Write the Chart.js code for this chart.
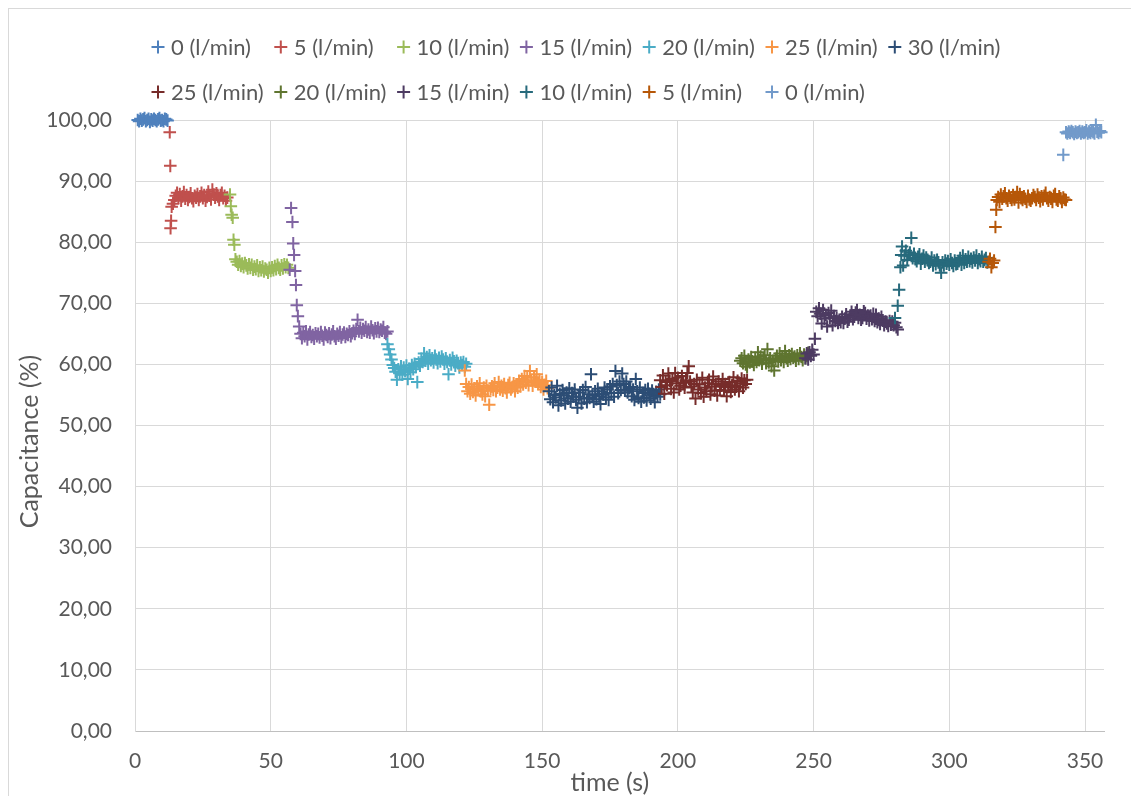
<!DOCTYPE html>
<html>
<head>
<meta charset="utf-8">
<title>Capacitance vs time</title>
<script src="https://cdn.jsdelivr.net/npm/chart.js@4.4.1/dist/chart.umd.min.js"></script>
<style>
  html, body { margin: 0; padding: 0; background: #ffffff; overflow: hidden; }
  #wrap { position: relative; width: 1131px; height: 796px; }
  #frame { position: absolute; left: 8px; top: 8px; width: 1200px; height: 900px; border: 1px solid #D9D9D9; box-sizing: border-box; }
  canvas { position: absolute; left: 0; top: 0; }
</style>
</head>
<body>
<div id="wrap">
  <div id="frame"></div>
  <canvas id="chart" width="1131" height="796"></canvas>
</div>
<script>
// Series names, in plotting order
const seriesLabels = [
  '0 (l/min)', '5 (l/min)', '10 (l/min)', '15 (l/min)', '20 (l/min)', '25 (l/min)', '30 (l/min)',
  '25 (l/min)', '20 (l/min)', '15 (l/min)', '10 (l/min)', '5 (l/min)', '0 (l/min)'
];
const seriesColors = [
  '#4F81BD', '#C0504D', '#9BBB59', '#8064A2', '#4BACC6', '#F79646', '#2C4D75',
  '#772C2A', '#5F7530', '#4D3B62', '#276A7C', '#B65708', '#729ACA'
];

// Time stamps (s) and capacitance readings (%) for each flow step
const t0a = [1,1.5,2,2.5,3,3.5,4,4.5,5,5.5,6,6.5,7,7.5,8,8.5,9,9.5,10,10.5,11,11.5,12];
const v0a = [100.0,99.8,100.2,99.9,100.1,100.3,99.8,100.0,100.2,99.7,100.1,99.9,100.2,100.0,99.8,100.1,100.3,99.9,100.0,99.8,100.2,100.1,99.9];

const t5a = [12.8,13,13.1,13.3,13.5,14,
  14.5,15,15.5,16,16.5,17,17.5,18,18.5,19,19.5,20,20.5,21,21.5,22,22.5,23,23.5,24,
  24.5,25,25.5,26,26.5,27,27.5,28,28.5,29,29.5,30,30.5,31,31.5,32,32.5,33,33.5,34];
const v5a = [98.0,92.5,82.3,83.5,85.8,86.3,
  86.9,87.6,88.1,87.3,87.9,86.8,87.5,88.2,87.1,87.7,86.9,87.4,88.0,87.2,86.7,87.6,87.3,87.9,86.9,87.5,
  88.1,87.2,87.7,86.8,87.4,88.3,87.6,87.0,88.6,87.8,87.3,88.0,87.5,86.9,87.7,88.1,87.2,87.6,86.8,87.3];

const t10a = [35,35.3,35.6,36,36.3,36.6,37,
  37.5,38,38.5,39,39.5,40,40.5,41,41.5,42,42.5,43,43.5,44,44.5,45,45.5,46,46.5,47,
  47.5,48,48.5,49,49.5,50,50.5,51,51.5,52,52.5,53,53.5,54,54.5,55,55.5,56,56.5];
const v10a = [87.8,85.9,84.5,84.0,80.4,79.6,77.2,
  76.8,76.3,76.9,76.1,76.5,75.9,76.6,76.2,75.7,76.4,75.8,76.3,75.5,76.0,75.6,76.2,75.3,75.9,75.4,76.0,
  75.2,75.7,75.5,75.0,75.8,75.3,75.9,75.4,76.1,75.6,76.3,75.8,75.5,76.2,75.7,76.4,75.9,76.3,75.8];

const t15a = [57,57.5,58,58.3,58.6,59,59.3,59.6,60,60.5,
  61,61.5,62,62.5,63,63.5,64,64.5,65,65.5,66,66.5,67,67.5,68,68.5,69,69.5,70,70.5,
  71,71.5,72,72.5,73,73.5,74,74.5,75,75.5,76,76.5,77,77.5,78,78.5,79,79.5,80,
  80.5,81,81.5,82,82.5,83,83.5,84,84.5,85,85.5,86,86.5,87,87.5,88,88.5,89,89.5,90,
  90.5,91,91.5,92,92.5,93];
const v15a = [75.5,85.6,83.3,79.8,77.9,75.3,73.0,69.7,67.9,66.2,
  65.0,64.3,65.2,64.6,65.4,64.1,64.9,65.3,64.5,64.8,64.2,65.1,64.6,65.0,64.4,65.3,64.7,64.1,65.2,64.8,
  64.5,65.1,64.3,64.9,65.4,64.6,64.2,65.0,64.7,65.3,64.4,64.9,65.2,64.5,65.0,64.8,65.4,64.6,65.1,
  65.5,65.0,65.8,67.3,65.4,66.0,65.2,65.8,65.5,66.1,65.3,65.7,65.2,66.2,65.6,65.1,65.9,65.4,66.0,65.3,
  65.7,65.5,66.1,65.2,65.0,65.4];

const t20a = [93,93.5,94,94.5,95,
  95.5,96,96.5,97,97.5,98,98.5,99,99.5,100,100.5,101,101.5,102,102.5,103,
  103.5,104,104.5,105,105.5,106,106.5,107,107.5,108,108.5,109,109.5,110,110.5,111,111.5,112,
  112.5,113,113.5,114,114.5,115,115.5,116,116.5,117,117.5,118,118.5,119,119.5,120,120.5,121,121.5,122];
const v20a = [63.3,62.5,61.6,60.8,59.9,
  59.4,58.8,57.5,59.2,58.6,59.7,58.3,59.5,58.9,59.8,57.6,59.3,58.7,59.9,59.2,60.1,
  59.6,57.1,60.3,59.8,60.9,60.4,61.8,60.6,61.2,60.1,61.5,60.7,61.0,60.3,61.4,60.8,60.2,61.1,
  60.5,61.3,60.8,60.1,61.0,60.4,58.4,60.7,60.0,61.1,60.5,59.8,60.6,60.2,59.5,60.3,59.9,60.4,59.6,60.1];

const t25a = [121.5,
  122,122.5,123,123.5,124,124.5,125,125.5,126,126.5,127,127.5,128,128.5,129,129.5,130,130.5,131,
  131.5,132,132.5,133,133.5,134,134.5,135,135.5,136,136.5,137,137.5,138,138.5,139,139.5,140,140.5,141,
  141.5,142,142.5,143,143.5,144,144.5,145,145.5,146,146.5,147,147.5,148,148.5,149,149.5,150,150.5,151,151.5,152];
const v25a = [59.0,
  56.8,55.6,56.3,55.2,56.7,55.5,56.1,54.9,56.4,55.8,56.9,55.6,55.1,56.2,54.8,56.5,55.7,53.4,56.0,
  56.4,55.8,56.9,55.6,56.2,57.1,55.9,56.5,55.7,56.8,56.1,55.4,56.6,57.0,55.9,56.3,56.9,55.6,56.7,56.2,
  57.3,56.4,57.6,56.7,58.1,57.0,57.8,56.6,58.9,57.4,56.5,57.9,57.2,58.4,56.8,57.5,56.3,57.1,55.9,56.6,57.3,56.1];

const t30 = [
  152.5,153,153.5,154,154.5,155,155.5,156,156.5,157,157.5,158,158.5,159,159.5,160,160.5,161,161.5,162,
  162.5,163,163.5,164,164.5,165,165.5,166,166.5,167,167.5,168,168.5,169,169.5,170,170.5,171,171.5,172,
  172.5,173,173.5,174,174.5,175,175.5,176,176.5,177,177.5,178,178.5,179,179.5,180,180.5,181,181.5,182,
  182.5,183,183.5,184,184.5,185,185.5,186,186.5,187,187.5,188,188.5,189,189.5,190,190.5,191,191.5,192,192.5,193,193.5];
const v30 = [
  55.6,54.3,56.2,53.8,55.0,54.6,56.5,53.3,55.2,54.1,55.8,54.9,53.6,55.4,54.4,56.1,53.9,55.3,54.7,55.9,
  54.2,52.9,54.7,55.4,53.6,55.8,54.4,56.3,53.8,55.1,54.5,58.4,54.9,53.9,55.6,54.3,56.0,54.8,53.5,55.2,
  55.1,56.2,54.6,55.9,54.2,56.4,55.3,56.8,54.7,58.9,56.6,55.3,57.2,55.8,58.5,56.8,55.7,57.2,55.4,56.1,
  56.3,54.8,55.9,54.2,57.6,55.6,54.5,56.2,53.9,55.3,54.6,55.8,54.1,56.0,55.2,54.4,55.7,54.9,53.8,55.5,54.7,55.9,55.1];

const t25b = [
  193.5,194,194.5,195,195.5,196,196.5,197,197.5,198,198.5,199,199.5,200,200.5,201,201.5,202,202.5,203,
  203.5,204,204.5,205,205.5,206,206.5,207,207.5,208,208.5,209,209.5,210,210.5,211,211.5,212,212.5,213,
  213.5,214,214.5,215,215.5,216,216.5,217,217.5,218,218.5,219,219.5,220,220.5,221,221.5,222,222.5,223,223.5,224,224.5,225,225.5];
const v25b = [
  57.4,56.3,58.2,55.2,57.1,56.6,58.5,57.3,56.0,57.6,55.4,58.6,56.9,57.8,55.9,56.5,58.1,57.0,56.2,57.4,
  58.6,59.7,57.2,56.4,55.4,56.8,54.4,57.5,55.9,56.7,55.3,57.8,54.7,56.2,55.6,56.9,57.5,55.1,56.4,58.0,
  55.7,56.8,54.9,57.2,55.8,56.5,57.6,55.7,56.8,54.8,56.3,57.1,55.5,56.6,57.9,55.9,56.4,57.3,55.6,56.9,57.7,56.2,57.4,56.8,57.5];

const t20b = [
  223,223.5,224,224.5,225,225.5,226,226.5,227,227.5,228,228.5,229,229.5,230,230.5,231,231.5,232,232.5,
  233,233.5,234,234.5,235,235.5,236,236.5,237,237.5,238,238.5,239,239.5,240,240.5,241,241.5,242,242.5,
  243,243.5,244,244.5,245,245.5,246,246.5,247,247.5,248];
const v20b = [
  60.6,61.0,60.2,61.4,60.0,59.6,60.8,60.3,61.2,60.5,59.9,61.1,60.4,62.0,60.7,61.3,60.1,60.9,61.5,60.2,
  62.5,60.3,61.0,59.7,60.6,59.0,60.9,61.4,60.5,61.8,60.7,61.2,60.4,62.2,61.0,60.6,61.5,60.9,61.7,61.1,
  61.3,60.6,61.5,60.9,61.8,61.2,60.7,61.6,61.0,61.4,61.9];

const t15b = [247,247.5,248,248.5,249,249.5,250,250.5,
  251,251.5,252,252.5,253,253.5,254,254.5,255,255.5,256,256.5,257,257.5,258,258.5,259,259.5,260,260.5,
  261,261.5,262,262.5,263,263.5,264,264.5,265,265.5,266,266.5,267,267.5,268,268.5,269,269.5,270,270.5,
  271,271.5,272,272.5,273,273.5,274,274.5,275,275.5,276,276.5,277,277.5,278,278.5,279,279.5,280,280.5,281];
const v15b = [61.0,61.8,60.8,62.0,61.4,62.4,61.6,64.2,
  68.6,67.9,69.2,68.3,66.7,68.9,67.5,68.1,66.2,68.4,67.6,68.8,66.4,67.9,67.1,67.6,66.8,67.3,66.9,67.8,
  66.8,67.5,68.2,67.0,67.3,68.0,68.6,67.4,67.8,68.5,68.9,67.6,68.1,67.3,67.6,68.7,68.4,67.5,68.0,67.2,
  68.0,67.4,68.3,67.1,68.1,66.9,67.5,66.6,67.8,67.2,66.4,67.0,66.7,66.3,67.1,66.5,67.0,66.4,66.8,66.1,65.7];

const t10b = [280,281,281.5,282,282.3,282.6,
  283,283.5,284,284.5,285,285.5,286,286.5,287,287.5,288,288.5,289,289.5,290,290.5,291,291.5,292,292.5,
  293,293.5,294,294.5,295,295.5,296,296.5,297,297.5,298,298.5,299,299.5,300,300.5,301,301.5,302,302.5,
  303,303.5,304,304.5,305,305.5,306,306.5,307,307.5,308,308.5,309,309.5,310,310.5,311,311.5,312,312.5,313,313.5,314];
const v10b = [67.6,69.6,72.2,75.9,77.9,79.3,
  76.2,77.8,78.6,77.1,77.9,78.3,80.7,77.4,78.1,77.2,76.9,77.6,78.0,76.5,77.3,77.8,76.8,77.5,77.1,76.6,
  76.8,77.5,76.2,77.0,76.4,77.1,76.7,76.2,75.0,76.7,76.2,77.0,76.5,76.9,76.3,77.2,76.6,76.1,77.0,76.4,
  76.5,76.9,77.4,76.3,77.8,76.6,77.2,76.8,77.6,76.9,77.3,76.7,77.5,77.0,77.8,76.6,77.2,76.9,77.6,76.8,77.1,77.4,76.7];

const t5b = [314.5,315,315.5,316,316.5,317,317.3,
  317.5,318,318.5,319,319.5,320,320.5,321,321.5,322,322.5,323,323.5,324,324.5,325,325.5,326,326.5,327,
  327.5,328,328.5,329,329.5,330,330.5,331,331.5,332,332.5,333,333.5,334,334.5,335,335.5,336,336.5,337,
  337.5,338,338.5,339,339.5,340,340.5,341,341.5,342,342.5,343];
const v5b = [76.8,77.3,75.9,76.6,77.0,82.5,85.3,
  86.9,87.4,86.6,87.8,87.1,87.5,88.0,87.2,86.8,87.6,87.3,86.9,87.7,87.0,87.4,88.2,86.5,87.9,87.2,86.9,
  87.5,87.1,86.6,87.6,87.0,86.8,87.2,87.7,87.4,86.9,87.8,87.3,86.7,87.5,87.0,87.6,88.1,87.2,86.8,87.4,
  87.1,86.6,87.6,87.9,87.0,86.8,87.5,87.2,86.6,87.3,87.0,86.9];

const t0b = [342,
  343,343.5,344,344.5,345,345.5,346,346.5,347,347.5,348,348.5,349,349.5,350,350.5,351,351.5,352,352.5,
  353,353.5,354,354.5,355,355.5,356];
const v0b = [94.3,
  98.0,97.8,98.1,97.9,98.2,98.0,97.7,98.1,97.9,98.0,98.2,97.8,98.1,97.9,98.0,98.3,97.8,98.1,97.9,98.2,
  98.0,97.8,99.2,98.1,97.9,98.2,98.0];

const seriesTimes  = [t0a, t5a, t10a, t15a, t20a, t25a, t30, t25b, t20b, t15b, t10b, t5b, t0b];
const seriesValues = [v0a, v5a, v10a, v15a, v20a, v25a, v30, v25b, v20b, v15b, v10b, v5b, v0b];

// Axis ranges and tick spacing
const xMin = 0, xMax = 357, xStep = 50;
const yMin = 0, yMax = 100, yStep = 10;

const FONT = 'Lato, "Open Sans", "DejaVu Sans", sans-serif';
const TEXT = '#595959';
const GRID = '#D9D9D9';

const datasets = seriesLabels.map((label, i) => ({
  label,
  data: seriesTimes[i].map((t, k) => ({ x: t, y: seriesValues[i][k] })),
  showLine: false,
  pointStyle: 'cross',
  pointRadius: 6.3,
  pointHoverRadius: 6.3,
  pointBorderWidth: 2,
  borderColor: seriesColors[i],
  backgroundColor: seriesColors[i],
  clip: false,
  order: seriesLabels.length - i   // later flow steps are painted over earlier ones
}));

// Legend laid out in equal-width columns, two rows
const columnLegend = {
  id: 'columnLegend',
  afterDraw(chart, args, opts) {
    const ctx = chart.ctx;
    ctx.save();
    ctx.font = opts.font;
    ctx.textBaseline = 'middle';
    ctx.textAlign = 'left';
    chart.data.datasets.forEach((ds, i) => {
      const row = i < opts.perRow ? 0 : 1;
      const col = row === 0 ? i : i - opts.perRow;
      const cx = opts.x0 + col * opts.colWidth;
      const cy = opts.rowY[row];
      ctx.strokeStyle = ds.borderColor;
      ctx.lineWidth = 2;
      ctx.beginPath();
      ctx.moveTo(cx - opts.mark, cy); ctx.lineTo(cx + opts.mark, cy);
      ctx.moveTo(cx, cy - opts.mark); ctx.lineTo(cx, cy + opts.mark);
      ctx.stroke();
      ctx.fillStyle = opts.color;
      ctx.fillText(ds.label, cx + opts.gap, cy + 1);
    });
    ctx.restore();
  }
};

new Chart(document.getElementById('chart'), {
  type: 'scatter',
  data: { datasets },
  plugins: [columnLegend],
  options: {
    responsive: false,
    animation: false,
    events: [],
    layout: { padding: { top: 120, right: 27, bottom: 0, left: 0 } },
    plugins: {
      legend: { display: false },
      tooltip: { enabled: false },
      columnLegend: {
        font: '22px ' + FONT,
        color: TEXT,
        x0: 158, colWidth: 122.8, perRow: 7,
        rowY: [47, 92], mark: 6.5, gap: 13
      }
    },
    scales: {
      x: {
        type: 'linear',
        min: xMin, max: xMax,
        afterFit(scale) { scale.height = 65; },
        ticks: {
          stepSize: xStep, includeBounds: false, padding: 18,
          color: TEXT, font: { family: FONT, size: 21 },
          maxRotation: 0
        },
        grid: { color: GRID, lineWidth: 1, drawTicks: false },
        border: { color: '#BFBFBF', width: 1 },
        title: {
          display: true, text: 'time (s)   ', color: TEXT,
          font: { family: FONT, size: 25, lineHeight: 1 },
          padding: { top: 0, bottom: 0.5 }
        }
      },
      y: {
        type: 'linear',
        min: yMin, max: yMax,
        afterFit(scale) { scale.width = 135; },
        ticks: {
          stepSize: yStep, padding: 23,
          color: TEXT, font: { family: FONT, size: 21 },
          callback: v => v.toFixed(2).replace('.', ',')
        },
        grid: { color: GRID, lineWidth: 1, drawTicks: false },
        border: { color: GRID, width: 1 },
        title: {
          display: true, text: 'Capacitance (%)     ', color: TEXT,
          font: { family: FONT, size: 25, lineHeight: 1.2 },
          padding: { top: 15, bottom: 0 }
        }
      }
    }
  }
});
</script>
</body>
</html>
